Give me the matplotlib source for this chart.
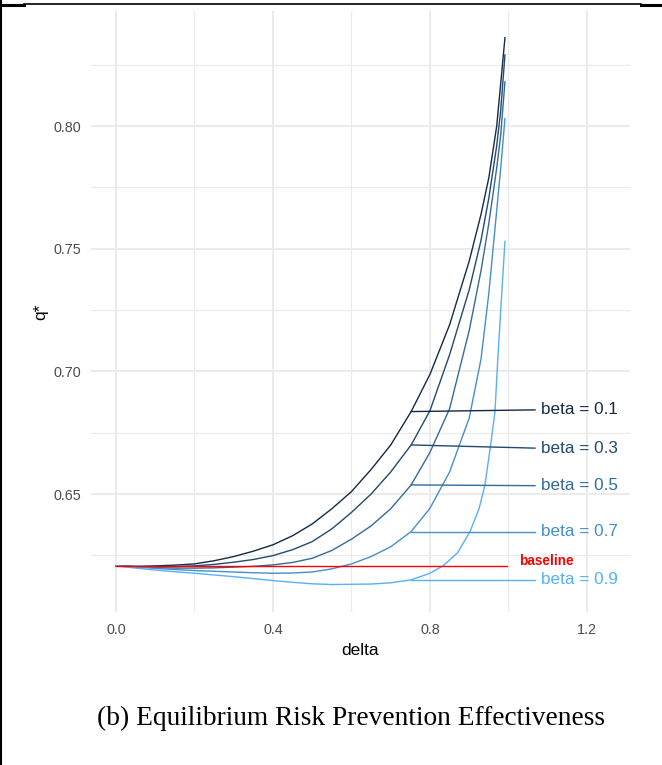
import matplotlib
matplotlib.use("Agg")
import matplotlib.pyplot as plt
from matplotlib.lines import Line2D

# values
d_b1 = [0.0, 0.05, 0.1, 0.15, 0.2, 0.25, 0.3, 0.35, 0.4, 0.45, 0.5, 0.55, 0.6, 0.65, 0.7, 0.752,
        0.8, 0.85, 0.9, 0.93, 0.95, 0.97, 0.98, 0.991]
q_b1 = [0.6207, 0.6205, 0.6207, 0.6210, 0.6215, 0.6228, 0.6245, 0.6267, 0.6293, 0.6330, 0.6378, 0.6440,
        0.651, 0.660, 0.670, 0.6836, 0.6988, 0.719, 0.745, 0.764, 0.779, 0.800, 0.817, 0.836]

d_b3 = [0.0, 0.05, 0.1, 0.15, 0.2, 0.25, 0.3, 0.35, 0.4, 0.45, 0.5, 0.55, 0.6, 0.65, 0.7, 0.752,
        0.8, 0.85, 0.9, 0.93, 0.95, 0.97, 0.98, 0.991]
q_b3 = [0.6207, 0.6204, 0.6203, 0.6204, 0.6207, 0.6213, 0.6222, 0.6233, 0.6249, 0.6273, 0.6306, 0.6358,
        0.6425, 0.650, 0.659, 0.670, 0.684, 0.7068, 0.7333, 0.7534, 0.7707, 0.792, 0.806, 0.829]

d_b5 = [0.0, 0.05, 0.1, 0.15, 0.2, 0.25, 0.3, 0.35, 0.4, 0.45, 0.5, 0.55, 0.6, 0.65, 0.7, 0.752,
        0.8, 0.85, 0.9, 0.93, 0.95, 0.97, 0.98, 0.991]
q_b5 = [0.6207, 0.6203, 0.6200, 0.6198, 0.6198, 0.6199, 0.6202, 0.6205, 0.6211, 0.6221, 0.6238, 0.6270,
        0.6316, 0.637, 0.644, 0.6537, 0.667, 0.6848, 0.7167, 0.741, 0.7604, 0.783, 0.796, 0.818]

d_b7 = [0.0, 0.05, 0.1, 0.15, 0.2, 0.25, 0.3, 0.35, 0.4, 0.45, 0.5, 0.55, 0.6, 0.65, 0.7, 0.752,
        0.8, 0.85, 0.9, 0.93, 0.95, 0.97, 0.98, 0.991]
q_b7 = [0.6207, 0.6202, 0.6197, 0.6192, 0.6188, 0.6185, 0.6182, 0.6179, 0.6177, 0.6178, 0.6182, 0.6195,
        0.6215, 0.6245, 0.6285, 0.6347, 0.6442, 0.659, 0.681, 0.705, 0.732, 0.7656, 0.7825, 0.803]

d_b9 = [0.0, 0.05, 0.1, 0.15, 0.2, 0.25, 0.3, 0.35, 0.4, 0.45, 0.5, 0.55, 0.6, 0.65, 0.7, 0.752,
        0.8, 0.834, 0.87, 0.902, 0.925, 0.940, 0.9546, 0.9656, 0.971, 0.981, 0.991]
q_b9 = [0.6207, 0.6198, 0.6190, 0.6183, 0.6177, 0.6170, 0.6163, 0.6155, 0.6147, 0.6140, 0.6134, 0.6131,
        0.6132, 0.6133, 0.6138, 0.6150, 0.6177, 0.6208, 0.626, 0.6347, 0.644, 0.6537, 0.670, 0.6836,
        0.700, 0.727, 0.753]

betas = [0.1, 0.3, 0.5, 0.7, 0.9]
label_y = [0.6843, 0.6687, 0.6534, 0.6347, 0.6150]
label_from = 0.752

baseline_d = [0.0, 0.995]
baseline_q = [0.6207, 0.6207]
baseline_label_y = 0.6225

cols = ['#132B43', '#234A6D', '#336B99', '#458FCA', '#56B1F7']

fig = plt.figure(figsize=(6.62, 7.65), dpi=100)
ax = fig.add_axes([91/662, 1-612/765, (630-91)/662, (612-11)/765])

curves = [(d_b1, q_b1), (d_b3, q_b3), (d_b5, q_b5), (d_b7, q_b7), (d_b9, q_b9)]
for (d, q), c in zip(curves, cols):
    ax.plot(d, q, color=c, lw=1.0, zorder=3)

ax.plot(baseline_d, baseline_q, color='#FF0000', lw=1.0, zorder=4)

for (d, q), c, b, ly in zip(curves, cols, betas, label_y):
    y0 = q[d.index(label_from)]
    ax.plot([label_from, 1.0675], [y0, ly], color=c, lw=1.0, zorder=3)
    ax.text(1.082, ly, 'beta = %.1f' % b, color=c, fontsize=12.3,
            family='Liberation Sans', va='center', ha='left')

ax.text(1.027, baseline_label_y, 'baseline', color='#FF0000', fontsize=9.8,
        fontweight='bold', family='Liberation Sans', va='center', ha='left')

ax.set_xlim(-0.0637, 1.3096)
ax.set_ylim(0.6019, 0.8469)
ax.set_xticks([0.0, 0.4, 0.8, 1.2])
ax.set_xticklabels(['0.0', '0.4', '0.8', '1.2'])
ax.set_xticks([0.2, 0.6, 1.0], minor=True)
ax.set_yticks([0.65, 0.70, 0.75, 0.80])
ax.set_yticklabels(['0.65', '0.70', '0.75', '0.80'])
ax.set_yticks([0.625, 0.675, 0.725, 0.775, 0.825], minor=True)
ax.grid(which='major', color='#EBEBEB', lw=1.4)
ax.grid(which='minor', color='#EBEBEB', lw=0.9)
ax.set_axisbelow(True)
for s in ax.spines.values():
    s.set_visible(False)
ax.tick_params(which='both', length=0)
ax.tick_params(axis='x', pad=8, labelsize=10.4, labelcolor='#4D4D4D')
ax.tick_params(axis='y', pad=7, labelsize=10.4, labelcolor='#4D4D4D')
for t in ax.get_xticklabels() + ax.get_yticklabels():
    t.set_family('Liberation Sans')

ax.set_xlabel('delta', fontsize=12.5, family='Liberation Sans', labelpad=4)
ax.set_ylabel('q*', fontsize=12.5, family='Liberation Sans', labelpad=4)

fig.text(351/662, 1-718/765, '(b) Equilibrium Risk Prevention Effectiveness',
         family='Liberation Serif', fontsize=19.7, ha='center', va='center')

# frame remains from the scanned page
fig.add_artist(Line2D([24/662, 641/662], [1-3.5/765, 1-3.5/765], color='black', lw=1.2))
fig.add_artist(Line2D([0, 24/662], [1-5/765, 1-5/765], color='black', lw=2.2))
fig.add_artist(Line2D([641/662, 1], [1-5/765, 1-5/765], color='black', lw=2.2))
fig.add_artist(Line2D([1/662, 1/662], [0, 1], color='black', lw=1.5))

fig.savefig('out.png', dpi=100)
